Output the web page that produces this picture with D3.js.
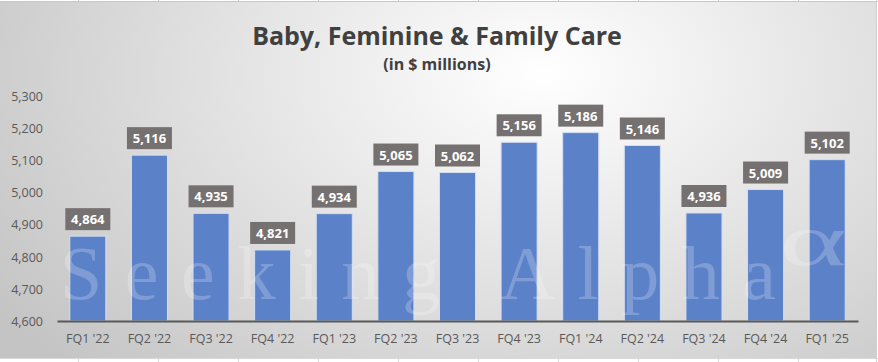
<!DOCTYPE html>
<html>
<head>
<meta charset="utf-8">
<script src="https://cdn.jsdelivr.net/npm/d3@7"></script>
<style>
  body { margin: 0; background: #fff; }
  svg { display: block; }
  .tick text { font-family: "Open Sans", "Noto Sans", sans-serif; }
</style>
</head>
<body>
<div id="chart"></div>
<script>
/* Baby, Feminine & Family Care - quarterly bar chart */

const quarters = ["FQ1 '22", "FQ2 '22", "FQ3 '22", "FQ4 '22", "FQ1 '23", "FQ2 '23", "FQ3 '23",
  "FQ4 '23", "FQ1 '24", "FQ2 '24", "FQ3 '24", "FQ4 '24", "FQ1 '25"];
const sales = [4864, 5116, 4935, 4821, 4934, 5065, 5062, 5156, 5186, 5146, 4936, 5009, 5102];
const yTicks = [4600, 4700, 4800, 4900, 5000, 5100, 5200, 5300];

const W = 878, H = 362;
const margin = { top: 96, right: 20, bottom: 41, left: 57 };
const fontFam = '"Open Sans", "Noto Sans", sans-serif';

const svg = d3.select('#chart').append('svg')
  .attr('width', W)
  .attr('height', H);

// background gradient
const defs = svg.append('defs');
const grad = defs.append('radialGradient')
  .attr('id', 'bg')
  .attr('cx', '62%').attr('cy', '20%').attr('r', '75%')
  .attr('gradientTransform', 'translate(0.62,0.2) scale(1,1.6) translate(-0.62,-0.2)');
grad.append('stop').attr('offset', '0%').attr('stop-color', '#ffffff');
grad.append('stop').attr('offset', '100%').attr('stop-color', '#c4c4c4');

svg.append('rect')
  .attr('x', 0).attr('y', 2)
  .attr('width', 876).attr('height', 356)
  .attr('fill', 'url(#bg)');

// sheet grid lines outside the chart
svg.append('line').attr('x1', 0).attr('x2', W).attr('y1', 1.5).attr('y2', 1.5)
  .attr('stroke', '#c8c8c8');
svg.append('line').attr('x1', 876.5).attr('x2', 876.5).attr('y1', 0).attr('y2', H)
  .attr('stroke', '#d0d0d0');
svg.append('line').attr('x1', 0).attr('x2', W).attr('y1', 358.5).attr('y2', 358.5)
  .attr('stroke', '#d8d8d8');
d3.range(78, 876, 80).forEach(x => {
  svg.append('line').attr('x1', x + 0.5).attr('x2', x + 0.5).attr('y1', 0).attr('y2', 2)
    .attr('stroke', '#c8c8c8');
  svg.append('line').attr('x1', x + 0.5).attr('x2', x + 0.5).attr('y1', 358).attr('y2', H)
    .attr('stroke', '#d8d8d8');
});

// titles
svg.append('text')
  .attr('x', 437).attr('y', 45)
  .attr('text-anchor', 'middle')
  .attr('font-family', fontFam)
  .attr('font-weight', 'bold')
  .attr('font-size', 25)
  .attr('fill', '#404040')
  .text('Baby, Feminine & Family Care');
svg.append('text')
  .attr('x', 437).attr('y', 70)
  .attr('text-anchor', 'middle')
  .attr('font-family', fontFam)
  .attr('font-weight', 'bold')
  .attr('font-size', 16)
  .attr('fill', '#404040')
  .text('(in $ millions)');

const x = d3.scaleBand()
  .domain(quarters)
  .range([margin.left, W - margin.right])
  .paddingInner(0.415)
  .paddingOuter(0.2075);

const y = d3.scaleLinear()
  .domain([4600, 5300])
  .range([H - margin.bottom, margin.top]);

// y axis
const yAxis = svg.append('g')
  .attr('transform', `translate(${margin.left - 14},0)`)
  .call(d3.axisLeft(y).tickValues(yTicks).tickFormat(d3.format(',')).tickSize(0).tickPadding(0));
yAxis.select('.domain').remove();
yAxis.selectAll('text')
  .attr('fill', '#595959')
  .attr('font-size', 12.5)
  .attr('dy', '0.35em');

// bars
svg.append('g').selectAll('rect')
  .data(sales)
  .join('rect')
  .attr('x', (d, i) => x(quarters[i]))
  .attr('y', d => y(d))
  .attr('width', x.bandwidth())
  .attr('height', d => y(4600) - y(d))
  .attr('fill', '#5b81c9')
  .attr('stroke', '#d5def1')
  .attr('stroke-width', 1);

// watermark (sits over the bars, faint)
const wm = svg.append('g')
  .attr('fill', '#ffffff')
  .attr('fill-opacity', 0.22)
  .attr('font-family', '"Liberation Serif", "DejaVu Serif", serif');
wm.append('text')
  .attr('x', 60).attr('y', 299)
  .attr('font-size', 76)
  .attr('textLength', 716)
  .attr('lengthAdjust', 'spacing')
  .text('Seeking Alpha');
wm.append('text')
  .attr('transform', 'translate(779,265) scale(1.75,1)')
  .attr('font-size', 74)
  .text('α');

// x axis
const xAxis = svg.append('g')
  .attr('transform', `translate(0,${y(4600)})`)
  .call(d3.axisBottom(x).tickSize(0).tickPadding(13));
xAxis.select('.domain')
  .attr('stroke', '#595959')
  .attr('stroke-width', 2);
xAxis.selectAll('text')
  .attr('fill', '#595959')
  .attr('font-size', 12.5);

// value labels
const fmt = d3.format(',');
const lbl = svg.append('g').selectAll('g')
  .data(sales)
  .join('g')
  .attr('transform', (d, i) => `translate(${x(quarters[i]) + x.bandwidth() / 2},${y(d) - 6})`);
lbl.append('rect')
  .attr('x', -22.5).attr('y', -22)
  .attr('width', 45).attr('height', 22)
  .attr('fill', '#767171');
lbl.append('text')
  .attr('y', -6)
  .attr('text-anchor', 'middle')
  .attr('font-family', fontFam)
  .attr('font-weight', 'bold')
  .attr('font-size', 13)
  .attr('fill', '#ffffff')
  .text(d => fmt(d));
</script>
</body>
</html>
